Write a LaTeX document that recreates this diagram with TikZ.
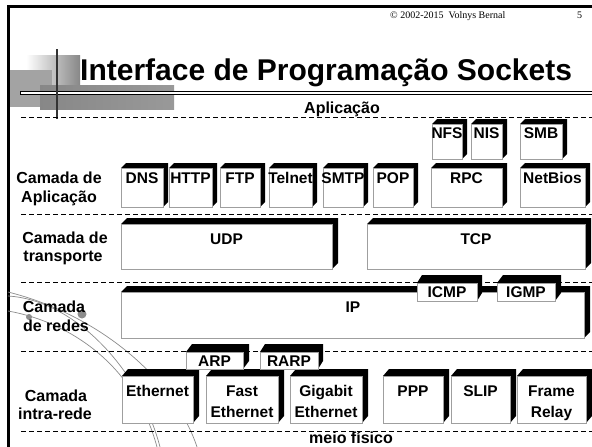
\documentclass[tikz,border=0pt]{standalone}
\usepackage{fontspec}
\setmainfont{Liberation Sans}
\newfontfamily\serifx{Liberation Serif}
\tikzset{
  lbl/.style={font=\bfseries\fontsize{16}{19}\selectfont, anchor=base, inner sep=0pt},
  btxt/.style={font=\bfseries\fontsize{15.5}{18}\selectfont, anchor=base, inner sep=0pt},
  frontface/.style={fill=white, draw=gray!75, line width=0.8pt},
  sepline/.style={dash pattern=on 5pt off 3pt, line width=0.9pt},
  deco/.style={draw=gray!90, line width=0.7pt},
}
% x1 y1 x2 y2 dx dy
\newcommand\tdbox[6]{%
  \fill[black] (#1,#2) -- (#1+#5,#2-#6) -- (#3+#5,#2-#6) -- (#3+#5,#4-#6) -- (#3,#4) -- (#3,#2) -- cycle;
  \draw[frontface] (#1,#2) rectangle (#3,#4);
}
\begin{document}
\begin{tikzpicture}[x=1pt,y=-1pt]
\useasboundingbox (0,0) rectangle (592,447);
\fill[white] (0,0) rectangle (592,447);
% frame
\draw[line width=2.5pt] (8.5,447) -- (8.5,6.5) -- (592,6.5);
% decorative header
\shade[left color=white, right color=gray!94] (26,55) rectangle (80,85);
\fill[gray!72] (9.8,70) rectangle (52,107);
\shade[left color=gray!94, right color=gray!80] (40,85) rectangle (174,109);
\draw[line width=0.8pt, fill=white] (20,91.3) rectangle (593,94.3);
\draw[line width=2.5pt, black!80] (57,49) -- (57,119);
\node[anchor=base west, font=\bfseries\fontsize{30}{32}\selectfont, inner sep=0pt] (title) at (80,80) {Interface de Programação Sockets};
\node[anchor=base west, font=\serifx\fontsize{10}{12}\selectfont, inner sep=0pt] (copy) at (390,18) {© 2002-2015\ \ Volnys Bernal};
\node[anchor=base west, font=\serifx\fontsize{10}{12}\selectfont, inner sep=0pt] (page) at (577,18) {5};
% decorative curves
\draw[deco] (8,292) .. controls (100,315) and (175,380) .. (197,447);
\draw[deco] (8,296) .. controls (75,300) and (140,370) .. (160,447);
\draw[deco] (8,311) .. controls (70,322) and (135,365) .. (157,447);
\fill[gray!90] (29,317) circle (3);
\fill[gray!90] (82,314) circle (4.5);
% separators
\draw[sepline] (21,117.5) -- (592,117.5);
\draw[sepline] (21,214.5) -- (592,214.5);
\draw[sepline] (21,282.5) -- (592,282.5);
\draw[sepline] (21,351) -- (592,351);
\draw[sepline] (21,431) -- (592,431);
\node[lbl] (aplic) at (342,113) {Aplicação};
\node[lbl] (meio) at (351,443) {meio físico};
% layer labels
\node[lbl] (la1) at (59,183) {Camada de};
\node[lbl] (la2) at (59,202) {Aplicação};
\node[lbl] (lt1) at (65,243) {Camada de};
\node[lbl] (lt2) at (63,261) {transporte};
\node[lbl] (lr1) at (54,312) {Camada};
\node[lbl] (lr2) at (56,331) {de redes};
\node[lbl] (li1) at (56,401) {Camada};
\node[lbl] (li2) at (55,419) {intra-rede};
% application boxes
\tdbox{432}{124}{462}{159}{5}{5}\node[btxt] (nfs) at (447,138.5) {NFS};
\tdbox{471}{124}{502}{159}{5}{5}\node[btxt] (nis) at (486.5,138.5) {NIS};
\tdbox{520}{124}{562}{159}{5}{5}\node[btxt] (smb) at (541,138.5) {SMB};
\tdbox{121}{168}{163}{207}{5}{5}\node[btxt] (dns) at (142,183) {DNS};
\tdbox{169}{168}{212}{207}{5}{5}\node[btxt] (http) at (190.5,183) {HTTP};
\tdbox{220}{168}{260}{207}{5}{5}\node[btxt] (ftp) at (240,183) {FTP};
\tdbox{269}{168}{312}{207}{5}{5}\node[btxt] (telnet) at (290.5,183) {Telnet};
\tdbox{323}{168}{363}{207}{5}{5}\node[btxt] (smtp) at (343,183) {SMTP};
\tdbox{373}{168}{413}{207}{5}{5}\node[btxt] (pop) at (393,183) {POP};
\tdbox{431}{168}{502}{207}{5}{5}\node[btxt] (rpc) at (466.5,183) {RPC};
\tdbox{520}{168}{585}{207}{5}{5}\node[btxt] (netbios) at (552.5,183) {NetBios};
% transport
\tdbox{121}{224}{332}{269}{6}{6}\node[btxt] (udp) at (226.5,244) {UDP};
\tdbox{367}{224}{585}{269}{6}{6}\node[btxt] (tcp) at (476,244) {TCP};
% network
\tdbox{121}{292}{584}{338}{6}{6}\node[btxt] (ip) at (353,312) {IP};
\tdbox{417}{283}{477}{301}{5}{8}\node[btxt] (icmp) at (447,297) {ICMP};
\tdbox{497}{283}{555}{301}{6}{8}\node[btxt] (igmp) at (526,297) {IGMP};
% link
\tdbox{122}{376}{193}{423}{6}{7}\node[btxt] (eth) at (157.5,396) {Ethernet};
\tdbox{206}{376}{278}{423}{6}{7}\node[btxt] (feth1) at (242,396) {Fast};\node[btxt] (feth2) at (242,417) {Ethernet};
\tdbox{290}{376}{362}{423}{6}{7}\node[btxt] (geth1) at (326,396) {Gigabit};\node[btxt] (geth2) at (326,417) {Ethernet};
\tdbox{383}{376}{443}{423}{6}{7}\node[btxt] (ppp) at (413,396) {PPP};
\tdbox{451}{376}{510}{423}{6}{7}\node[btxt] (slip) at (480.5,396) {SLIP};
\tdbox{517}{376}{586}{423}{6}{7}\node[btxt] (fr1) at (551.5,396) {Frame};\node[btxt] (fr2) at (551.5,417) {Relay};
\tdbox{186}{352}{243}{369}{6}{8}\node[btxt] (arp) at (214.5,366) {ARP};
\tdbox{260}{352}{318}{369}{5}{8}\node[btxt] (rarp) at (289,366) {RARP};
\end{tikzpicture}
\end{document}
